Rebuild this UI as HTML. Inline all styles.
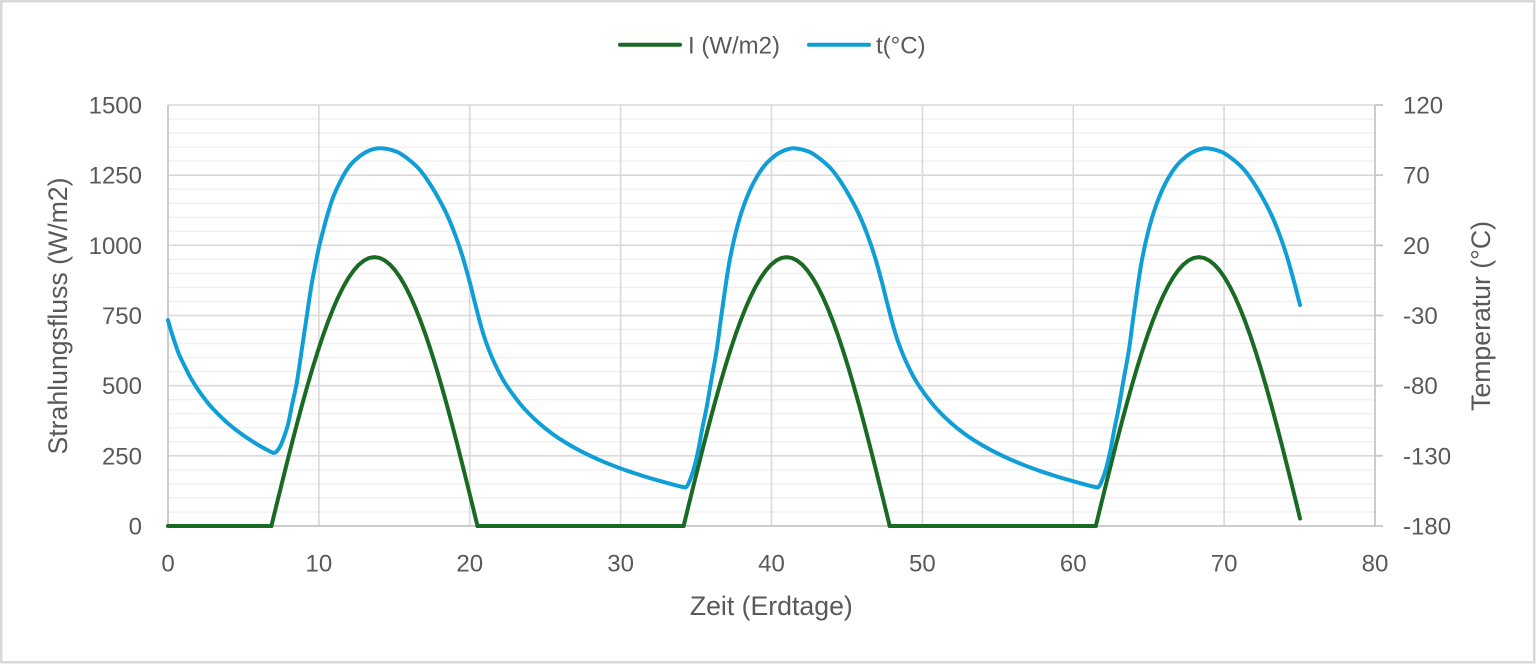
<!DOCTYPE html>
<html><head><meta charset="utf-8"><style>
html,body{margin:0;padding:0;background:#fff;}
svg{display:block;}
text{font-family:"Liberation Sans",Arial,sans-serif;fill:#595959;}
</style></head><body>
<svg id="chart" width="1537" height="665" viewBox="0 0 1537 665" xmlns="http://www.w3.org/2000/svg">
<rect x="0" y="0" width="1537" height="665" fill="#fff"/>
<rect x="1.25" y="1.25" width="1533" height="661" fill="none" stroke="#d9d9d9" stroke-width="2.5"/>
<!-- minor gridlines -->
<g stroke="#f0f0f0" stroke-width="1.5">
<line x1="168" x2="1375" y1="511.97" y2="511.97"/><line x1="168" x2="1375" y1="497.93" y2="497.93"/><line x1="168" x2="1375" y1="483.9" y2="483.9"/><line x1="168" x2="1375" y1="469.87" y2="469.87"/>
<line x1="168" x2="1375" y1="441.8" y2="441.8"/><line x1="168" x2="1375" y1="427.77" y2="427.77"/><line x1="168" x2="1375" y1="413.73" y2="413.73"/><line x1="168" x2="1375" y1="399.7" y2="399.7"/>
<line x1="168" x2="1375" y1="371.63" y2="371.63"/><line x1="168" x2="1375" y1="357.6" y2="357.6"/><line x1="168" x2="1375" y1="343.57" y2="343.57"/><line x1="168" x2="1375" y1="329.53" y2="329.53"/>
<line x1="168" x2="1375" y1="301.47" y2="301.47"/><line x1="168" x2="1375" y1="287.43" y2="287.43"/><line x1="168" x2="1375" y1="273.4" y2="273.4"/><line x1="168" x2="1375" y1="259.37" y2="259.37"/>
<line x1="168" x2="1375" y1="231.3" y2="231.3"/><line x1="168" x2="1375" y1="217.27" y2="217.27"/><line x1="168" x2="1375" y1="203.23" y2="203.23"/><line x1="168" x2="1375" y1="189.2" y2="189.2"/>
<line x1="168" x2="1375" y1="161.13" y2="161.13"/><line x1="168" x2="1375" y1="147.1" y2="147.1"/><line x1="168" x2="1375" y1="133.07" y2="133.07"/><line x1="168" x2="1375" y1="119.03" y2="119.03"/>
</g>
<!-- major gridlines -->
<g stroke="#d9d9d9" stroke-width="1.6">
<line x1="168" x2="1375" y1="105" y2="105"/><line x1="168" x2="1375" y1="175.17" y2="175.17"/><line x1="168" x2="1375" y1="245.33" y2="245.33"/><line x1="168" x2="1375" y1="315.5" y2="315.5"/><line x1="168" x2="1375" y1="385.67" y2="385.67"/><line x1="168" x2="1375" y1="455.83" y2="455.83"/>
<line x1="318.9" x2="318.9" y1="105" y2="526"/><line x1="469.75" x2="469.75" y1="105" y2="526"/><line x1="620.6" x2="620.6" y1="105" y2="526"/><line x1="771.5" x2="771.5" y1="105" y2="526"/><line x1="922.4" x2="922.4" y1="105" y2="526"/><line x1="1073.25" x2="1073.25" y1="105" y2="526"/><line x1="1224.1" x2="1224.1" y1="105" y2="526"/>
</g>
<!-- axes -->
<g stroke="#c6c6c6" stroke-width="1.8">
<line x1="168" x2="168" y1="105" y2="527"/>
<line x1="1375" x2="1375" y1="105" y2="527"/>
<line x1="167" x2="1383" y1="526" y2="526"/>
<line x1="1375" x2="1383" y1="105" y2="105"/><line x1="1375" x2="1383" y1="175.17" y2="175.17"/><line x1="1375" x2="1383" y1="245.33" y2="245.33"/><line x1="1375" x2="1383" y1="315.5" y2="315.5"/><line x1="1375" x2="1383" y1="385.67" y2="385.67"/><line x1="1375" x2="1383" y1="455.83" y2="455.83"/>
</g>
<!-- green series I -->
<g fill="none" stroke="#196b24" stroke-width="4" stroke-linejoin="round" stroke-linecap="round">
<polyline points="168,526 271.4,526"/>
<polyline points="477.5,526 683.6,526"/>
<polyline points="889.7,526 1095.8,526"/>
<g transform="translate(271.4,0)"><polyline points="0,526 5.15,504.89 10.31,483.94 15.46,463.24 20.61,442.91 25.76,423.09 30.92,403.92 36.07,385.5 41.22,367.94 46.37,351.38 51.53,335.86 56.68,321.53 61.83,308.46 66.98,296.74 72.14,286.41 77.29,277.56 82.44,270.25 87.59,264.52 92.75,260.4 97.9,257.93 103.05,257.1 108.2,257.93 113.36,260.4 118.51,264.52 123.66,270.25 128.81,277.56 133.97,286.41 139.12,296.74 144.27,308.46 149.42,321.53 154.58,335.86 159.73,351.38 164.88,367.94 170.03,385.5 175.19,403.92 180.34,423.09 185.49,442.91 190.64,463.24 195.8,483.94 200.95,504.89 206.1,526"/></g>
<g transform="translate(683.6,0)"><polyline points="0,526 5.15,504.89 10.31,483.94 15.46,463.24 20.61,442.91 25.76,423.09 30.92,403.92 36.07,385.5 41.22,367.94 46.37,351.38 51.53,335.86 56.68,321.53 61.83,308.46 66.98,296.74 72.14,286.41 77.29,277.56 82.44,270.25 87.59,264.52 92.75,260.4 97.9,257.93 103.05,257.1 108.2,257.93 113.36,260.4 118.51,264.52 123.66,270.25 128.81,277.56 133.97,286.41 139.12,296.74 144.27,308.46 149.42,321.53 154.58,335.86 159.73,351.38 164.88,367.94 170.03,385.5 175.19,403.92 180.34,423.09 185.49,442.91 190.64,463.24 195.8,483.94 200.95,504.89 206.1,526"/></g>
<g transform="translate(1095.8,0)"><polyline points="0,526 5.15,504.89 10.31,483.94 15.46,463.24 20.61,442.91 25.76,423.09 30.92,403.92 36.07,385.5 41.22,367.94 46.37,351.38 51.53,335.86 56.68,321.53 61.83,308.46 66.98,296.74 72.14,286.41 77.29,277.56 82.44,270.25 87.59,264.52 92.75,260.4 97.9,257.93 103.05,257.1 108.2,257.93 113.36,260.4 118.51,264.52 123.66,270.25 128.81,277.56 133.97,286.41 139.12,296.74 144.27,308.46 149.42,321.53 154.58,335.86 159.73,351.38 164.88,367.94 170.03,385.5 175.19,403.92 180.34,423.09 185.49,442.91 190.64,463.24 195.8,483.94 200.95,504.89 204.2,518.5"/></g>
</g>
<!-- blue series t -->
<polyline id="tline" fill="none" stroke="#0f9ed5" stroke-width="4" stroke-linejoin="round" stroke-linecap="round" points="168,320.2 171.5,332.4 175.5,344.5 179,354.3 183.1,363.0 190.6,377.7 198.2,389.9 205.7,400.2 213.3,409.1 228.4,423.8 243.4,435.4 258.5,445.1 271.4,452.1 273.5,452.8 276,452 280,446.7 284,437 288.3,423.3 292,405 296.7,383.3 301,355 306.7,316.7 311,288 315,266.7 319,247 323.3,230 328,213 333.3,196.7 340,182 346.7,170 353,162 360,156 365,152.6 370,150.2 375,148.8 380,148.3 385,148.6 390,149.55 395,151.1 400,153.3 410,160.5 420,170 430,184 440,201 448,217 456,237 463,258 470,283.2 474,299.2 477.5,312.9 481.3,327.1 485.0,339.1 488.8,349.5 492.6,358.8 500.1,374.4 507.7,387.1 522.8,407 537.9,422.1 552.9,434.2 568.0,444 583.1,452.3 598.2,459.4 613.3,465.7 628.4,471.2 643.5,476.1 658.6,480.6 673.6,484.7 683.6,487.1 686.5,486.8 690,480 694,468 698.3,450 702,430 706.7,407 711,382 716.7,350 721,318 725,290 729,264 733.3,243 738,224 743.3,207 750,190 756.7,177 765,165 773.3,157 778,153.6 783,151 788,149.2 793,148.3 797.2,148.6 802.2,149.55 807.2,151.1 812.2,153.3 822.2,160.5 832.2,170 842.2,184 852.2,201 860.2,217 868.2,237 875.2,258 882.2,283.2 886.2,299.2 889.7,312.9 893.5,327.1 897.2,339.1 901.0,349.5 904.8,358.8 912.3,374.4 919.9,387.1 935.0,407 950.1,422.1 965.1,434.2 980.2,444 995.3,452.3 1010.4,459.4 1025.5,465.7 1040.6,471.2 1055.7,476.1 1070.8,480.6 1085.8,484.7 1095.8,487.1 1098.7,486.8 1102.2,480 1106.2,468 1110.5,450 1114.2,430 1118.9,407 1123.2,382 1128.9,350 1133.2,318 1137.2,290 1141.2,264 1145.5,243 1150.2,224 1155.5,207 1162.2,190 1168.9,177 1177.2,165 1185.5,157 1190.2,153.6 1195.2,151 1200.2,149.2 1205.2,148.3 1209.4,148.6 1214.4,149.55 1219.4,151.1 1224.4,153.3 1234.4,160.5 1244.4,170 1254.4,184 1264.4,201 1272.4,217 1280.4,237 1287.4,258 1294.4,283.2 1300,305"/>
<!-- left tick labels -->
<g font-size="24" text-anchor="end">
<text x="142" y="113.5">1500</text>
<text x="142" y="183.7">1250</text>
<text x="142" y="253.8">1000</text>
<text x="142" y="324">750</text>
<text x="142" y="394.2">500</text>
<text x="142" y="464.3">250</text>
<text x="142" y="534.5">0</text>
</g>
<!-- right tick labels -->
<g font-size="24" text-anchor="start">
<text x="1403" y="113.5">120</text>
<text x="1403" y="183.7">70</text>
<text x="1403" y="253.8">20</text>
<text x="1403" y="324">-30</text>
<text x="1403" y="394.2">-80</text>
<text x="1403" y="464.3">-130</text>
<text x="1403" y="534.5">-180</text>
</g>
<!-- bottom tick labels -->
<g font-size="24" text-anchor="middle">
<text x="168" y="571.7">0</text>
<text x="318.9" y="571.7">10</text>
<text x="469.75" y="571.7">20</text>
<text x="620.6" y="571.7">30</text>
<text x="771.5" y="571.7">40</text>
<text x="922.4" y="571.7">50</text>
<text x="1073.25" y="571.7">60</text>
<text x="1224.1" y="571.7">70</text>
<text x="1375" y="571.7">80</text>
</g>
<!-- axis titles -->
<text x="771.3" y="615" font-size="26.67" text-anchor="middle">Zeit (Erdtage)</text>
<text transform="translate(67,316) rotate(-90)" font-size="26.67" text-anchor="middle">Strahlungsfluss (W/m2)</text>
<text transform="translate(1490,316) rotate(-90)" font-size="26.67" text-anchor="middle">Temperatur (°C)</text>
<!-- legend -->
<line x1="620" x2="680" y1="44.7" y2="44.7" stroke="#196b24" stroke-width="4" stroke-linecap="round"/>
<text x="688" y="53.3" font-size="24">I (W/m2)</text>
<line x1="809" x2="869" y1="44.7" y2="44.7" stroke="#0f9ed5" stroke-width="4" stroke-linecap="round"/>
<text x="876" y="53.3" font-size="24">t(°C)</text>
</svg>
<script>
(function(){
  try{
    var pl=document.getElementById('tline');
    var raw=pl.getAttribute('points').trim().split(/\s+/).map(function(s){var a=s.split(',');return [parseFloat(a[0]),parseFloat(a[1])];});
    var n=raw.length;
    var d='M'+raw[0][0]+','+raw[0][1];
    for(var i=0;i<n-1;i++){
      var p0=raw[i>0?i-1:i],p1=raw[i],p2=raw[i+1],p3=raw[i+2<n?i+2:i+1];
      var c1x=p1[0]+(p2[0]-p0[0])/6,c1y=p1[1]+(p2[1]-p0[1])/6;
      var c2x=p2[0]-(p3[0]-p1[0])/6,c2y=p2[1]-(p3[1]-p1[1])/6;
      d+=' C'+c1x.toFixed(2)+','+c1y.toFixed(2)+' '+c2x.toFixed(2)+','+c2y.toFixed(2)+' '+p2[0]+','+p2[1];
    }
    var ns='http://www.w3.org/2000/svg';
    var path=document.createElementNS(ns,'path');
    path.setAttribute('d',d);
    path.setAttribute('fill','none');
    path.setAttribute('stroke','#0f9ed5');
    path.setAttribute('stroke-width','4');
    path.setAttribute('stroke-linejoin','round');
    path.setAttribute('stroke-linecap','round');
    pl.parentNode.replaceChild(path,pl);
  }catch(e){}
})();
</script>
</body></html>
